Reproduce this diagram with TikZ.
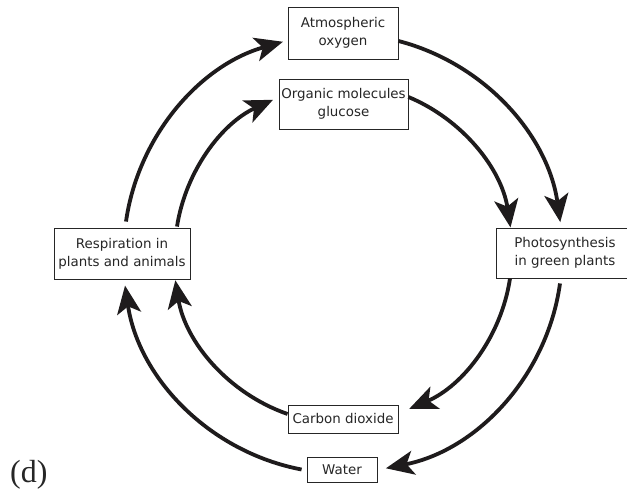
\documentclass[tikz,border=0pt]{standalone}
\usepackage{fontspec}
\setmainfont{DejaVu Sans}
\newfontfamily\labelfont{Liberation Serif}
\usetikzlibrary{arrows.meta}
\definecolor{inkc}{HTML}{1E1B1C}
\definecolor{txtc}{HTML}{262626}
\tikzset{
  box/.style={draw=txtc, line width=0.9pt, fill=white, align=center, inner sep=0pt,
    text=txtc, font=\fontsize{13.4}{18}\selectfont},
  cyc/.style={draw=inkc, line width=3.8pt,
    -{Stealth[length=28pt,width=24pt,inset=7pt]}}
}
\begin{document}
\begin{tikzpicture}[x=1pt,y=1pt]
\useasboundingbox (0,0) rectangle (627,491);
% nodes
\node[box, minimum width=110, minimum height=52] (atm) at (343,458) {Atmospheric\\oxygen};
\node[box, minimum width=129, minimum height=50] (org) at (343.5,387) {Organic molecules\\glucose};
\node[box, minimum width=136, minimum height=51] (resp) at (122,237.5) {Respiration in\\plants and animals};
\node[box, minimum width=138, minimum height=50] (photo) at (565,238) {Photosynthesis\\in green plants};
\node[box, minimum width=110, minimum height=28] (co2) at (343,72) {Carbon dioxide};
\node[box, minimum width=70, minimum height=25] (water) at (342,21.5) {Water};
\node[anchor=base west, inner sep=0pt, text=txtc, font=\labelfont\fontsize{32}{32}\selectfont] (lab) at (10,9) {(d)};
% outer cycle
\draw[cyc] ([shift={(4,6)}]resp.north) arc[start angle=171.87, end angle=105.9, radius=219.2];
\draw[cyc] ([yshift=-8]atm.east) arc[start angle=75.46, end angle=8.1, radius=219.0];
\draw[cyc] ([shift={(-5,-5)}]photo.south) arc[start angle=-7.87, end angle=-78.7, radius=219.1];
\draw[cyc] ([xshift=-5]water.west) arc[start angle=259.25, end angle=188.4, radius=219.9];
% inner cycle
\draw[cyc] ([shift={(55,1)}]resp.north) arc[start angle=171.1, end angle=114.6, radius=168.0];
\draw[cyc] ([yshift=7]org.east) arc[start angle=67.38, end angle=8.7, radius=169.0];
\draw[cyc] ([xshift=-55]photo.south) arc[start angle=-8.51, end angle=-66.9, radius=168.9];
\draw[cyc] ([yshift=5]co2.west) arc[start angle=250.8, end angle=189.2, radius=170.5];
\end{tikzpicture}
\end{document}
